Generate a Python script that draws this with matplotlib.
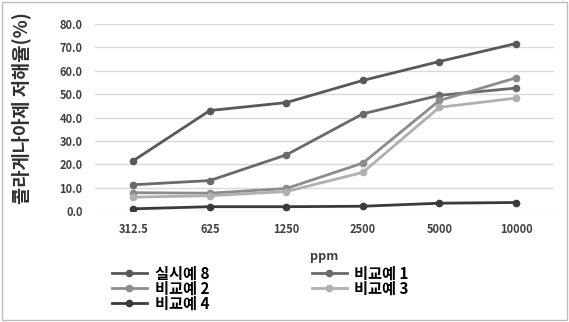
import matplotlib
matplotlib.use("Agg")
import matplotlib.pyplot as plt
from matplotlib.patches import Rectangle

plt.rcParams['font.family'] = ['Noto Sans CJK KR', 'DejaVu Sans']

concentrations = ["312.5", "625", "1250", "2500", "5000", "10000"]
ex8 = [21.5, 43.0, 46.4, 55.9, 64.0, 71.7]
cmp1 = [11.2, 13.0, 24.0, 41.6, 49.5, 52.6]
cmp2 = [7.8, 7.6, 9.6, 20.5, 47.3, 57.0]
cmp3 = [5.9, 6.5, 8.3, 16.5, 44.4, 48.3]
cmp4 = [0.9, 1.8, 1.8, 2.0, 3.3, 3.6]
yticks = [0, 10, 20, 30, 40, 50, 60, 70, 80]

series = [
    ("실시예 8", ex8, "#585858"),
    ("비교예 1", cmp1, "#6a6a6a"),
    ("비교예 2", cmp2, "#8c8c8c"),
    ("비교예 3", cmp3, "#b0b0b0"),
    ("비교예 4", cmp4, "#3a3a3a"),
]

fig = plt.figure(figsize=(5.69, 3.22), dpi=100)
fig.patches.append(Rectangle((0.004, 0.006), 0.992, 0.988, transform=fig.transFigure,
                             fill=False, edgecolor="#bdbdbd", linewidth=1.0))
ax = fig.add_axes([0.167, 0.345, 0.807, 0.580])

x = list(range(len(concentrations)))
handles = []
for name, vals, col in series:
    h, = ax.plot(x, vals, color=col, linewidth=2.0, marker="o", markersize=4.5,
                 label=name, zorder=3)
    handles.append(h)

ax.set_xlim(-0.5, len(x) - 0.5)
ax.set_ylim(0, 80)
ax.set_yticks(yticks)
ax.set_yticklabels([f"{v:.1f}" for v in yticks])
ax.set_xticks(x)
ax.set_xticklabels(concentrations)
ax.grid(axis="y", color="#d9d9d9", linewidth=1.0)
ax.set_axisbelow(True)
for s in ax.spines.values():
    s.set_visible(False)
ax.tick_params(length=0, labelsize=8, labelcolor="#404040", pad=9)
for lab in ax.get_xticklabels() + ax.get_yticklabels():
    lab.set_fontweight("bold")
ax.set_xlabel("ppm", fontsize=9, fontweight="bold", color="#404040", labelpad=10)
ax.set_ylabel("콜라게나아제 저해율(%)", fontsize=13.5, fontweight="bold", color="#303030")
ax.yaxis.set_label_coords(-0.14, 0.55)

order = [handles[0], handles[2], handles[4], handles[1], handles[3]]
leg = fig.legend(handles=order, labels=[h.get_label() for h in order], ncol=2,
                 loc="upper left", bbox_to_anchor=(0.183, 0.2), frameon=False,
                 prop={'weight': 'bold', 'size': 11},
                 handlelength=2.3, labelspacing=-0.05, columnspacing=6.7,
                 handletextpad=0.5, borderpad=0.0)
fig.savefig("out.png", dpi=100)
